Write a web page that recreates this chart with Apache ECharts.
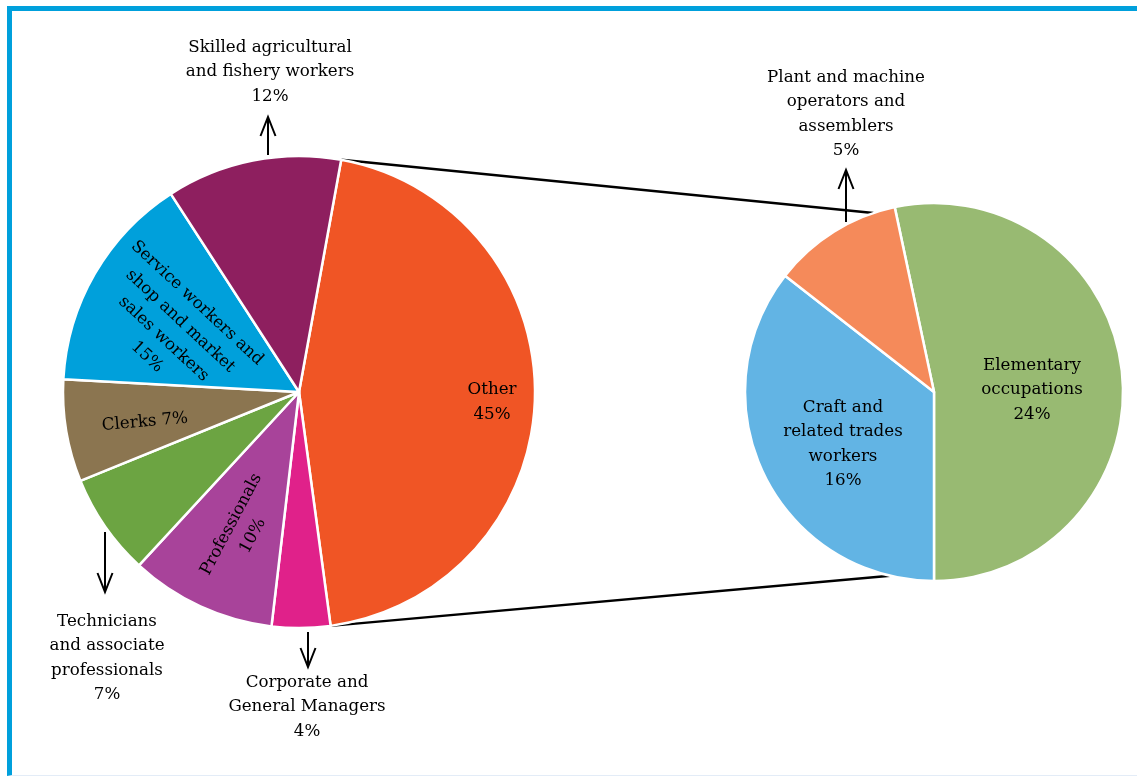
<!DOCTYPE html>
<html>
<head>
<meta charset="utf-8">
<title>Employment by occupation</title>
<script src="https://cdn.jsdelivr.net/npm/echarts@6/dist/echarts.min.js"></script>
<style>
  html, body { margin: 0; padding: 0; background: #ffffff; }
  #wrap { position: relative; width: 1137px; height: 776px; overflow: hidden; }
  #frame {
    position: absolute; left: 7px; top: 6px; right: 0; bottom: 0;
    border-top: 5px solid #00A0DC; border-left: 5px solid #00A0DC;
    border-bottom: 1px solid #E3ECF7; box-sizing: border-box;
  }
  #chart { position: absolute; left: 0; top: 0; width: 1137px; height: 776px; }
</style>
</head>
<body>
<div id="wrap">
  <div id="frame"></div>
  <div id="chart"></div>
</div>
<script>
// Main pie: occupational groups (share of employment, %)
const mainNames = [
  'Other',
  'Corporate and General Managers',
  'Professionals',
  'Technicians and associate professionals',
  'Clerks',
  'Service workers and shop and market sales workers',
  'Skilled agricultural and fishery workers'
];
const mainValues = [45, 4, 10, 7, 7, 15, 12];
const mainLabels = [
  'Other\n45%',
  'Corporate and\nGeneral Managers\n4%',
  'Professionals\n10%',
  'Technicians\nand associate\nprofessionals\n7%',
  'Clerks 7%',
  'Service workers and\nshop and market\nsales workers\n15%',
  'Skilled agricultural\nand fishery workers\n12%'
];
const mainColors = ['#F05525', '#E0218A', '#A8439A', '#6CA442', '#8B7550', '#00A0DB', '#8E1F5F'];

// Breakdown of "Other"
const subNames = [
  'Elementary occupations',
  'Craft and related trades workers',
  'Plant and machine operators and assemblers'
];
const subValues = [24, 16, 5];
const subLabels = [
  'Elementary\noccupations\n24%',
  'Craft and\nrelated trades\nworkers\n16%',
  'Plant and machine\noperators and\nassemblers\n5%'
];
const subColors = ['#98BA72', '#62B4E4', '#F58A5A'];

// Geometry
const FONT = 'DejaVu Serif';
const mainC = [299, 392], mainR = 236, mainStart = 79.7;
const subC = [934, 392], subR = 189, subStart = 102;

// Label placement (centre x, y, rotation in degrees)
const mainLabelPos = [
  [492, 402, 0],
  [307, 707, 0],
  [242, 530, 62],
  [107, 658, 0],
  [145, 422, 5],
  [172, 330, -43],
  [270, 72, 0]
];
const subLabelPos = [
  [1032, 390, 0],
  [843, 444, 0],
  [846, 114, 0]
];

function layoutFrom(pos) {
  return function (p) {
    const q = pos[p.dataIndex];
    return { x: q[0], y: q[1], rotate: q[2], align: 'center', verticalAlign: 'middle' };
  };
}

function pieData(names, values, labels, colors) {
  return names.map((n, i) => ({
    name: n, value: values[i], labelText: labels[i],
    itemStyle: { color: colors[i] }
  }));
}

const chart = echarts.init(document.getElementById('chart'), null, { renderer: 'canvas' });

// Point on a pie rim at a given angle (degrees, counter-clockwise from +x)
function rim(c, r, deg) {
  const a = deg * Math.PI / 180;
  return [c[0] + r * Math.cos(a), c[1] - r * Math.sin(a)];
}

const total = mainValues.reduce((a, b) => a + b, 0);
const otherSpan = mainValues[0] / total * 360;
const p1 = rim(mainC, mainR, mainStart);
const p2 = rim(mainC, mainR, mainStart - otherSpan);
const q1 = rim(subC, subR, 108.7);
const q2 = rim(subC, subR, -103.4);

// Up / down arrow pointing from a slice to its outside label
function arrow(x, y0, y1) {
  const dir = y1 < y0 ? 1 : -1;
  return [
    { type: 'line', shape: { x1: x, y1: y0, x2: x, y2: y1 }, style: { stroke: '#000', lineWidth: 2 }, z: 10 },
    { type: 'polyline', shape: { points: [[x - 7.5, y1 + dir * 19], [x, y1], [x + 7.5, y1 + dir * 19]] },
      style: { stroke: '#000', lineWidth: 2, fill: null }, z: 10 }
  ];
}

const graphics = [
  { type: 'line', shape: { x1: p1[0], y1: p1[1], x2: q1[0], y2: q1[1] }, style: { stroke: '#000', lineWidth: 2.5 }, z: -1 },
  { type: 'line', shape: { x1: p2[0], y1: p2[1], x2: q2[0], y2: q2[1] }, style: { stroke: '#000', lineWidth: 2.5 }, z: -1 }
]
  .concat(arrow(268, 155, 117))
  .concat(arrow(846, 222, 170))
  .concat(arrow(105, 532, 592))
  .concat(arrow(308, 632, 667));

const labelBase = {
  show: true,
  position: 'inside',
  formatter: p => p.data.labelText,
  fontFamily: FONT,
  fontSize: 16.7,
  lineHeight: 24.5,
  color: '#000',
  align: 'center'
};

chart.setOption({
  backgroundColor: 'transparent',
  animation: false,
  graphic: graphics,
  series: [
    {
      type: 'pie',
      center: mainC,
      radius: mainR,
      startAngle: mainStart,
      clockwise: true,
      avoidLabelOverlap: false,
      silent: true,
      itemStyle: { borderColor: '#ffffff', borderWidth: 2.5 },
      label: labelBase,
      labelLine: { show: false },
      labelLayout: layoutFrom(mainLabelPos),
      data: pieData(mainNames, mainValues, mainLabels, mainColors)
    },
    {
      type: 'pie',
      center: subC,
      radius: subR,
      startAngle: subStart,
      clockwise: true,
      avoidLabelOverlap: false,
      silent: true,
      itemStyle: { borderColor: '#ffffff', borderWidth: 2.5 },
      label: labelBase,
      labelLine: { show: false },
      labelLayout: layoutFrom(subLabelPos),
      data: pieData(subNames, subValues, subLabels, subColors)
    }
  ]
});
</script>
</body>
</html>
